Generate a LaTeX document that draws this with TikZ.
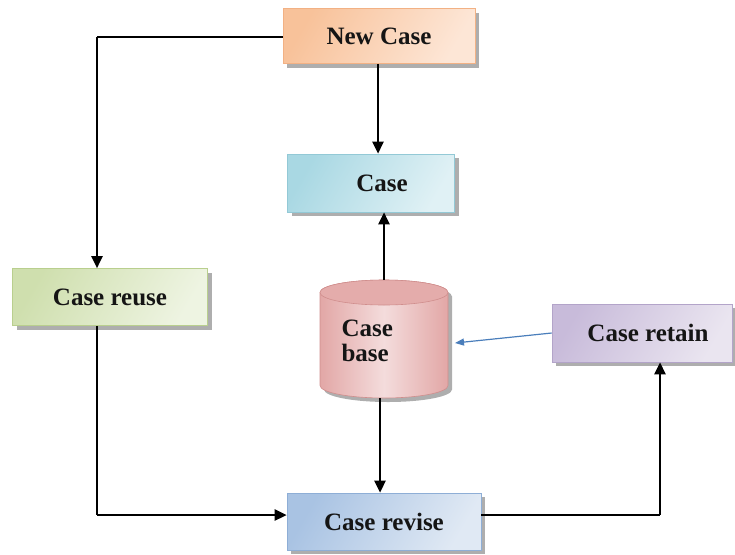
\documentclass[tikz,border=0pt]{standalone}
\usepackage{fontspec}
\setmainfont{Liberation Serif}
\usetikzlibrary{shapes.geometric,arrows.meta,shadows}
\definecolor{ncA}{HTML}{F8C29A}
\definecolor{ncB}{HTML}{FDE6D6}
\definecolor{ncD}{HTML}{F2B184}
\definecolor{csA}{HTML}{A9D8E3}
\definecolor{csB}{HTML}{E0F1F5}
\definecolor{csD}{HTML}{93C9D6}
\definecolor{cuA}{HTML}{CFDFAE}
\definecolor{cuB}{HTML}{EEF4E2}
\definecolor{cuD}{HTML}{B9CF8E}
\definecolor{cbA}{HTML}{E2A7A6}
\definecolor{cbB}{HTML}{F4DCDC}
\definecolor{cbD}{HTML}{D08E8D}
\definecolor{crA}{HTML}{C8BBDA}
\definecolor{crB}{HTML}{EAE5F0}
\definecolor{crD}{HTML}{B3A4C9}
\definecolor{cvA}{HTML}{A9C3E3}
\definecolor{cvB}{HTML}{E0E9F4}
\definecolor{cvD}{HTML}{8EAED6}
\definecolor{blueline}{HTML}{4A7EBB}
\definecolor{txt}{HTML}{151515}
\begin{document}
\begin{tikzpicture}[x=1pt,y=-1pt,
  boxshadow/.style={drop shadow={shadow xshift=4pt,shadow yshift=-4pt,fill=black!45,opacity=0.7}},
  stepbox/.style={rectangle,draw=#1D,line width=0.6pt,boxshadow,
    left color=#1A,right color=#1B,shading angle=60,
    font=\fontsize{25}{28}\selectfont\bfseries,text=txt},
  arr/.style={line width=2.5pt,-{Triangle[length=12pt,width=11pt]}},
  line/.style={line width=2.5pt}]
\useasboundingbox (0,0) rectangle (735,554);
\node[stepbox=nc,minimum width=192pt,minimum height=55pt] (nc) at (379,36) {New Case};
\node[stepbox=cs,minimum width=167pt,minimum height=58pt] (cs) at (371,183) {\hspace*{22pt}Case};
\node[stepbox=cu,minimum width=195pt,minimum height=57pt] (cu) at (110,297) {Case reuse};
\node[stepbox=cr,minimum width=180pt,minimum height=58pt] (cr) at (642,333) {\hspace*{12pt}Case retain};
\node[stepbox=cv,minimum width=194pt,minimum height=57pt] (cv) at (384,521.5) {Case revise};
% cylinder drawn directly
\fill[black!45,opacity=0.7] (324,296.5) -- (324,389.5) arc[start angle=180,end angle=360,x radius=64pt,y radius=12.5pt]
  -- (452,296.5) arc[start angle=0,end angle=180,x radius=64pt,y radius=12.5pt] -- cycle;
\draw[draw=cbD,line width=0.6pt,left color=cbA,right color=cbA,middle color=cbB]
  (320,292.5) -- (320,385.5) arc[start angle=180,end angle=360,x radius=64pt,y radius=12.5pt]
  -- (448,292.5) arc[start angle=0,end angle=180,x radius=64pt,y radius=12.5pt] -- cycle;
\draw[draw=cbD,line width=0.6pt,fill=cbA!90!cbB] (384,292.5) ellipse[x radius=64pt,y radius=12.5pt];
\node[minimum width=128pt,minimum height=118pt,inner sep=0pt] (cb) at (384,339) {};
\node[anchor=west,align=left,font=\fontsize{25}{25}\selectfont\bfseries,text=txt] (cbt) at (338,341) {Case\\base};
\coordinate (xa) at (378,0);
\coordinate (xb) at (384,0);
\coordinate (xc) at (380,0);
\coordinate (c1) at (97,37);
\coordinate (yl) at (0,515);
\coordinate (c3) at (660,515);
\coordinate (bt) at (455,343);
\draw[line] (nc.west |- c1) -- (c1);
\draw[arr] (c1) -- (c1 |- cu.north);
\draw[arr] (nc.south -| xa) -- (cs.north -| xa);
\draw[arr] (cb.north -| xb) -- (cs.south -| xb);
\draw[arr] (cb.south -| xc) -- (cv.north -| xc);
\draw[line] (cu.south -| c1) -- (c1 |- yl);
\draw[arr] (c1 |- yl) -- (cv.west |- yl);
\draw[line] (cv.east |- yl) -- (c3);
\draw[arr] (c3) -- (c3 |- cr.south);
\draw[blueline,line width=1.2pt,-{Triangle[length=9pt,width=7pt]}] (cr.west) -- (bt);
\end{tikzpicture}
\end{document}
